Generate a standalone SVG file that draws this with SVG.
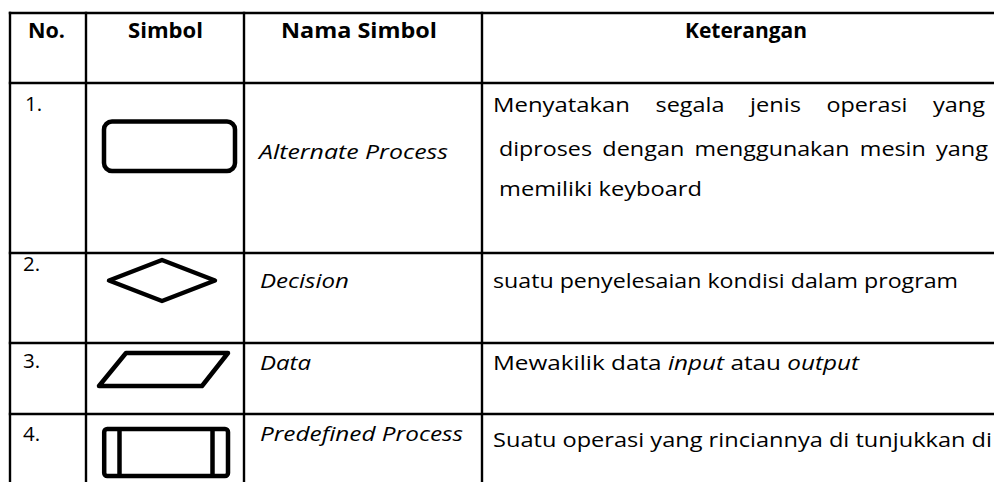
<svg xmlns="http://www.w3.org/2000/svg" width="994" height="482" viewBox="0 0 994 482">
  <style>
    .grid line { stroke: #000; stroke-width: 2.4; }
    .sym { fill: none; stroke: #000; stroke-width: 4.5; stroke-linejoin: round; }
    text { font-family: "Open Sans", "Liberation Sans", sans-serif; font-size: 20.5px; fill: #000; }
    .h { font-weight: bold; }
    .i { font-style: italic; }
  </style>
  <rect x="0" y="0" width="994" height="482" fill="#fff"/>
  <g id="grid" class="grid">
    <line x1="8.8" y1="13" x2="994" y2="13"/>
    <line x1="8.8" y1="83" x2="994" y2="83"/>
    <line x1="8.8" y1="253" x2="994" y2="253"/>
    <line x1="8.8" y1="343" x2="994" y2="343"/>
    <line x1="8.8" y1="414" x2="994" y2="414"/>
    <line x1="10" y1="11.8" x2="10" y2="482"/>
    <line x1="86" y1="11.8" x2="86" y2="482"/>
    <line x1="244" y1="11.8" x2="244" y2="482"/>
    <line x1="482" y1="11.8" x2="482" y2="482"/>
  </g>
  <g id="header">
    <text class="h" x="28" y="38" textLength="37" lengthAdjust="spacingAndGlyphs">No.</text>
    <text class="h" x="128" y="38" textLength="75" lengthAdjust="spacingAndGlyphs">Simbol</text>
    <text class="h" x="281" y="38" textLength="156" lengthAdjust="spacingAndGlyphs">Nama Simbol</text>
    <text class="h" x="685" y="38" textLength="122" lengthAdjust="spacingAndGlyphs">Keterangan</text>
  </g>
  <g id="row1">
    <text x="25" y="111">1.</text>
    <rect class="sym" x="104" y="121.5" width="131" height="49.5" rx="8"/>
    <text class="i" x="259" y="159" textLength="189" lengthAdjust="spacingAndGlyphs">Alternate Process</text>
    <text x="493" y="112" textLength="137" lengthAdjust="spacingAndGlyphs">Menyatakan</text>
    <text x="655.5" y="112" textLength="69" lengthAdjust="spacingAndGlyphs">segala</text>
    <text x="750" y="112" textLength="51" lengthAdjust="spacingAndGlyphs">jenis</text>
    <text x="826.5" y="112" textLength="81" lengthAdjust="spacingAndGlyphs">operasi</text>
    <text x="933" y="112" textLength="52" lengthAdjust="spacingAndGlyphs">yang</text>
    <text x="499" y="156" textLength="93" lengthAdjust="spacingAndGlyphs">diproses</text>
    <text x="602.3" y="156" textLength="82" lengthAdjust="spacingAndGlyphs">dengan</text>
    <text x="694.5" y="156" textLength="155" lengthAdjust="spacingAndGlyphs">menggunakan</text>
    <text x="859.8" y="156" textLength="66" lengthAdjust="spacingAndGlyphs">mesin</text>
    <text x="936" y="156" textLength="52" lengthAdjust="spacingAndGlyphs">yang</text>
    <text x="499" y="196" textLength="203" lengthAdjust="spacingAndGlyphs">memiliki keyboard</text>
  </g>
  <g id="row2">
    <text x="23" y="271">2.</text>
    <path class="sym" d="M109,280.5 L162,260 L215,280.5 L162,301 Z"/>
    <text class="i" x="260" y="288" textLength="89" lengthAdjust="spacingAndGlyphs">Decision</text>
    <text x="493" y="288" textLength="465" lengthAdjust="spacingAndGlyphs">suatu penyelesaian kondisi dalam program</text>
  </g>
  <g id="row3">
    <text x="23" y="368">3.</text>
    <path class="sym" d="M126,353 L228,353 L202,386 L99,386 Z"/>
    <text class="i" x="260" y="370" textLength="51" lengthAdjust="spacingAndGlyphs">Data</text>
    <text x="493" y="370" textLength="366" lengthAdjust="spacingAndGlyphs">Mewakilik data <tspan class="i">input</tspan> atau <tspan class="i">output</tspan></text>
  </g>
  <g id="row4">
    <text x="23" y="441">4.</text>
    <rect class="sym" x="104.2" y="429" width="123.8" height="47" rx="3"/>
    <line class="sym" x1="119.5" y1="429" x2="119.5" y2="476"/>
    <line class="sym" x1="212.5" y1="429" x2="212.5" y2="476"/>
    <text class="i" x="260" y="441" textLength="203" lengthAdjust="spacingAndGlyphs">Predefined Process</text>
    <text x="493" y="447" textLength="499" lengthAdjust="spacingAndGlyphs">Suatu operasi yang rinciannya di tunjukkan di</text>
  </g>
</svg>
